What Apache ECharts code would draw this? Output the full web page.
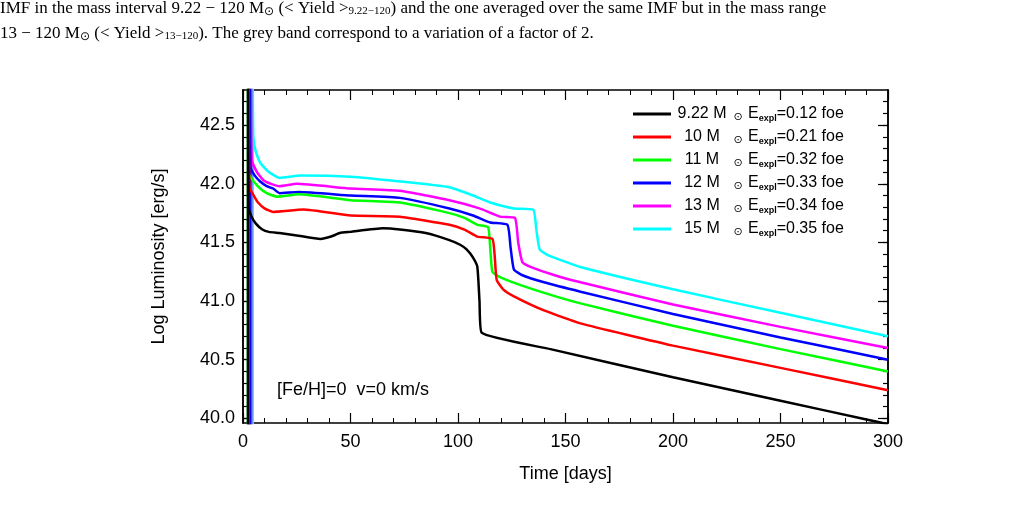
<!DOCTYPE html>
<html>
<head>
<meta charset="utf-8">
<script src="https://cdn.jsdelivr.net/npm/echarts@6/dist/echarts.min.js"></script>
<style>html,body{margin:0;padding:0;background:#fff}#main{width:1035px;height:509px}</style>
</head>
<body>
<div id="main"></div>
<script>
// light curves (time in days, log L)
var names = ['9.22', '10', '11', '12', '13', '15'];
var energies = ['0.12', '0.21', '0.32', '0.33', '0.34', '0.35'];
var colors = ['#000000', '#ff0000', '#00ff00', '#0000ff', '#ff00ff', '#00ffff'];

var t922 = [2.3, 2.3, 2.6, 4, 6, 9, 12, 17, 25, 36, 41, 45, 50, 65, 73, 85, 96, 101, 104, 107, 109, 110, 111, 143, 200, 250, 290, 300];
var l922 = [39.9, 43.0, 41.8, 41.72, 41.66, 41.61, 41.59, 41.58, 41.56, 41.53, 41.55, 41.58, 41.59, 41.62, 41.61, 41.58, 41.52, 41.48, 41.44, 41.37, 41.29, 41.0, 40.73, 40.59, 40.35, 40.15, 39.99, 39.95];
var t10 = [2.7, 2.7, 3.0, 5, 7, 10, 14, 28, 50, 73, 96, 103, 109, 116, 117, 118, 121, 126, 140, 157, 200, 250, 300];
var l10 = [39.9, 43.0, 41.97, 41.9, 41.84, 41.79, 41.76, 41.78, 41.73, 41.72, 41.65, 41.61, 41.55, 41.53, 41.4, 41.18, 41.1, 41.04, 40.92, 40.81, 40.62, 40.43, 40.24];
var t11 = [2.3, 2.3, 2.6, 5, 8, 11, 16, 26, 50, 73, 96, 103, 109, 114, 115, 116, 120, 135, 157, 200, 250, 300];
var l11 = [39.9, 43.0, 42.09, 42.02, 41.96, 41.92, 41.89, 41.91, 41.86, 41.84, 41.75, 41.71, 41.65, 41.63, 41.45, 41.25, 41.2, 41.1, 40.98, 40.79, 40.59, 40.4];
var t12 = [3.2, 3.2, 3.5, 5.5, 8, 11, 14, 17, 26, 50, 73, 96, 107, 115, 123, 124.5, 126, 130, 140, 157, 200, 250, 300];
var l12 = [39.9, 43.0, 42.14, 42.07, 42.02, 41.98, 41.96, 41.92, 41.93, 41.9, 41.88, 41.79, 41.73, 41.67, 41.65, 41.45, 41.27, 41.22, 41.16, 41.08, 40.89, 40.69, 40.5];
var t13 = [3.8, 3.8, 4.1, 6.5, 9.5, 13, 17, 25, 50, 73, 96, 110, 119.5, 126.5, 128, 130, 134, 145, 157, 200, 250, 300];
var l13 = [39.9, 43.0, 42.2, 42.1, 42.03, 42.0, 41.98, 42.0, 41.96, 41.94, 41.86, 41.79, 41.72, 41.71, 41.5, 41.33, 41.29, 41.22, 41.16, 40.97, 40.78, 40.6];
var t15 = [4.5, 4.5, 4.8, 6, 8, 12, 17, 26.5, 50, 73, 96, 107, 115, 126, 135, 136.5, 138, 142, 157, 200, 250, 300];
var l15 = [39.9, 43.0, 42.4, 42.27, 42.18, 42.1, 42.05, 42.07, 42.06, 42.02, 41.97, 41.9, 41.84, 41.79, 41.78, 41.6, 41.44, 41.39, 41.29, 41.1, 40.9, 40.7];

var times = [t922, t10, t11, t12, t13, t15];
var lums = [l922, l10, l11, l12, l13, l15];

var yMajor = [40, 40.5, 41, 41.5, 42, 42.5];
var yMinor = [];
for (var v = 40; v <= 42.8; v += 0.1) yMinor.push(Math.round(v * 10) / 10);

function pairs(t, l) {
    var out = [];
    for (var i = 0; i < t.length; i++) out.push([t[i], l[i]]);
    return out;
}

var FONT = 'Liberation Sans';
var chart = echarts.init(document.getElementById('main'));

function yAxis(vals, len, pos, showLabel) {
    return {
        type: 'value', min: 39.96, max: 42.8, position: pos,
        splitLine: { show: false },
        axisLine: { show: true, onZero: false, lineStyle: { color: '#000', width: 1.5 } },
        axisTick: { show: true, inside: true, length: len, customValues: vals, lineStyle: { color: '#000', width: 1.2 } },
        axisLabel: { show: showLabel, customValues: yMajor, color: '#000', fontSize: 18, fontFamily: FONT, margin: 8,
            formatter: function (v) { return v.toFixed(1); } },
        name: showLabel && pos == 'left' && len > 8 ? 'Log Luminosity [erg/s]' : '',
        nameLocation: 'middle', nameGap: 75, nameRotate: 90,
        nameTextStyle: { color: '#000', fontSize: 18, fontFamily: FONT }
    };
}

var series = [];
for (var i = 0; i < names.length; i++) {
    series.push({
        name: names[i], type: 'line', showSymbol: false, clip: true, smooth: 0.15,
        lineStyle: { color: colors[i], width: 2.5 }, itemStyle: { color: colors[i] },
        data: pairs(times[i], lums[i]), z: 3 + (names.length - i)
    });
}

var option = {
    animation: false,
    backgroundColor: '#fff',
    grid: { left: 243, right: 147, top: 90, bottom: 86 },
    legend: {
        orient: 'vertical', left: 628, top: 101, itemWidth: 38, itemHeight: 3, itemGap: 6,
        icon: 'rect', data: names,
        formatter: function (n) {
            var i = names.indexOf(n);
            return '{m|' + n + ' M}{o|⊙}{e|E}{s|expl}{e|=' + energies[i] + ' foe}';
        },
        textStyle: {
            color: '#000', fontFamily: FONT, fontSize: 16,
            rich: {
                m: { fontSize: 16, fontFamily: FONT, color: '#000', width: 52, align: 'right' },
                o: { fontSize: 11, fontFamily: 'DejaVu Sans', color: '#000', width: 20, verticalAlign: 'bottom', padding: [7, 0, 0, 0] },
                e: { fontSize: 16, fontFamily: FONT, color: '#000' },
                s: { fontSize: 9, fontWeight: 'bold', fontFamily: FONT, color: '#000', verticalAlign: 'bottom', padding: [8, 0, 0, 0] }
            }
        }
    },
    xAxis: [{
        type: 'value', min: 0, max: 300, interval: 50, position: 'bottom',
        splitLine: { show: false },
        axisLine: { show: true, onZero: false, lineStyle: { color: '#000', width: 1.5 } },
        axisTick: { inside: true, length: 10, lineStyle: { color: '#000', width: 1.2 } },
        minorTick: { show: true, splitNumber: 5, length: 5, lineStyle: { color: '#000' } },
        axisLabel: { color: '#000', fontSize: 18, fontFamily: FONT, margin: 10 },
        name: 'Time [days]', nameLocation: 'middle', nameGap: 42,
        nameTextStyle: { color: '#000', fontSize: 18, fontFamily: FONT }
    }, {
        type: 'value', min: 0, max: 300, interval: 50, position: 'top',
        splitLine: { show: false },
        axisLine: { show: true, onZero: false, lineStyle: { color: '#000', width: 1.5 } },
        axisTick: { inside: true, length: 10, lineStyle: { color: '#000', width: 1.2 } },
        minorTick: { show: true, splitNumber: 5, length: 5, lineStyle: { color: '#000' } },
        axisLabel: { show: false }
    }],
    yAxis: [
        yAxis(yMajor, 10, 'left', true),
        yAxis(yMinor, 5, 'left', false),
        yAxis(yMajor, 10, 'right', false),
        yAxis(yMinor, 5, 'right', false)
    ],
    series: series,
    graphic: [{
        type: 'text', left: 0, top: 0,
        style: {
            text: 'IMF in the mass interval 9.22 − 120 M{o|⊙} (< Yield >{s|9.22−120}) and the one averaged over the same IMF but in the mass range',
            fontFamily: 'Liberation Serif', fontSize: 17, fill: '#000',
            rich: { o: { fontSize: 12, fontFamily: 'DejaVu Sans', padding: [6, 0, 0, 0] }, s: { fontSize: 11, fontFamily: 'Liberation Serif', padding: [6, 0, 0, 0] } }
        }
    }, {
        type: 'text', left: 0, top: 25,
        style: {
            text: '13 − 120 M{o|⊙} (< Yield >{s|13−120}). The grey band correspond to a variation of a factor of 2.',
            fontFamily: 'Liberation Serif', fontSize: 17, fill: '#000',
            rich: { o: { fontSize: 12, fontFamily: 'DejaVu Sans', padding: [6, 0, 0, 0] }, s: { fontSize: 11, fontFamily: 'Liberation Serif', padding: [6, 0, 0, 0] } }
        }
    }, {
        type: 'text', left: 277, top: 381,
        style: { text: '[Fe/H]=0  v=0 km/s', fontFamily: FONT, fontSize: 18, fill: '#000' }
    }]
};
chart.setOption(option);
</script>
</body>
</html>
